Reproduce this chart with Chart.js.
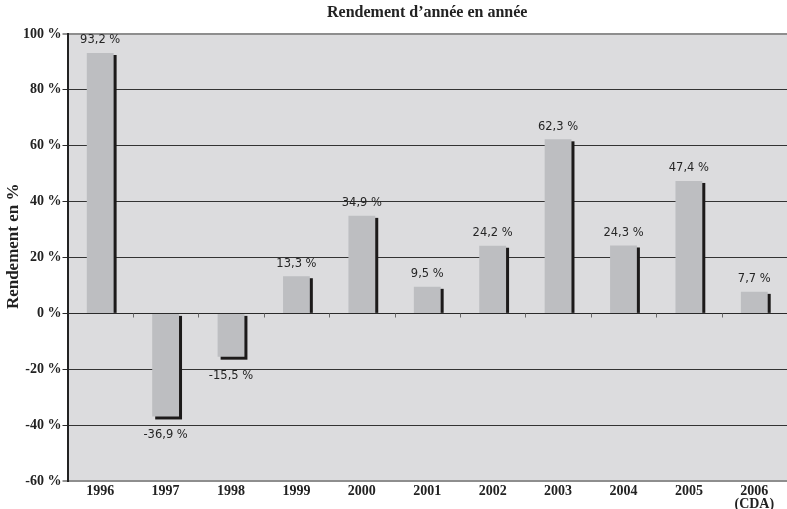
<!DOCTYPE html>
<html>
<head>
<meta charset="utf-8">
<script src="https://cdn.jsdelivr.net/npm/chart.js@4.4.1/dist/chart.umd.min.js"></script>
<style>
  html, body { margin: 0; padding: 0; background: #ffffff; }
  #wrap { width: 787px; height: 509px; }
</style>
</head>
<body>
<div id="wrap"><canvas id="c" width="787" height="509"></canvas></div>
<script>
// Year-over-year returns (%)
const years = ['1996', '1997', '1998', '1999', '2000', '2001', '2002', '2003', '2004', '2005', ['2006', '(CDA)']];
const returns = [93.2, -36.9, -15.5, 13.3, 34.9, 9.5, 24.2, 62.3, 24.3, 47.4, 7.7];
const yMin = -60;
const yMax = 100;
const yStep = 20;
const yTitle = 'Rendement en %';

const serifFamily = "'Liberation Serif', 'Times New Roman', serif";
const serifBold = { family: serifFamily, weight: 'bold' };
const fmt = v => v.toFixed(1).replace('.', ',') + ' %';

// Grey plot background
const plotBackground = {
  id: 'plotBackground',
  beforeDraw(chart) {
    const { ctx, chartArea: a } = chart;
    ctx.save();
    ctx.fillStyle = '#dcdcde';
    ctx.fillRect(a.left, a.top, a.right - a.left, a.bottom - a.top);
    ctx.restore();
  }
};

// Hard dark shadow behind each bar (offset down/right)
const barShadow = {
  id: 'barShadow',
  beforeDatasetsDraw(chart) {
    const { ctx } = chart;
    const meta = chart.getDatasetMeta(0);
    const d = 3;
    ctx.save();
    ctx.fillStyle = '#1c1a1a';
    meta.data.forEach(bar => {
      const { x, y, base, width } = bar.getProps(['x', 'y', 'base', 'width'], true);
      const left = x - width / 2 + d;
      if (y <= base) {
        ctx.fillRect(left, y + d - 1, width, base - y - d + 1);
      } else {
        ctx.fillRect(left, base + d - 1, width, y - base + 1);
      }
    });
    ctx.restore();
  }
};

// Zero line over bars, small category ticks, value labels and the vertical axis title
const overlay = {
  id: 'overlay',
  afterDatasetsDraw(chart) {
    const { ctx, scales: { x, y } } = chart;
    const y0 = Math.round(y.getPixelForValue(0)) + 0.5;
    ctx.save();
    ctx.strokeStyle = '#2a2a2a';
    ctx.lineWidth = 1;
    ctx.beginPath();
    ctx.moveTo(chart.chartArea.left, y0);
    ctx.lineTo(chart.chartArea.right, y0);
    ctx.stroke();

    ctx.strokeStyle = '#6a6a6a';
    for (let i = 0; i < years.length - 1; i++) {
      const bx = Math.round((x.getPixelForValue(i) + x.getPixelForValue(i + 1)) / 2) + 0.5;
      ctx.beginPath();
      ctx.moveTo(bx, y0);
      ctx.lineTo(bx, y0 + 4);
      ctx.stroke();
    }

    const meta = chart.getDatasetMeta(0);
    ctx.fillStyle = '#262626';
    ctx.font = "11.5px 'DejaVu Sans', 'Open Sans', sans-serif";
    ctx.textAlign = 'center';
    ctx.textBaseline = 'middle';
    meta.data.forEach((bar, i) => {
      const v = returns[i];
      const { x: bx, y: by } = bar.getProps(['x', 'y'], true);
      const ty = v >= 0 ? by - 12.5 : by + 19;
      ctx.fillText(fmt(v), bx, ty);
    });

    // rotated axis title, a little above the plot's vertical centre
    ctx.fillStyle = '#222222';
    ctx.translate(14, y.getPixelForValue(24));
    ctx.rotate(-Math.PI / 2);
    ctx.font = "bold 17px " + serifFamily;
    ctx.fillText(yTitle, 0, 0);
    ctx.restore();
  }
};

new Chart(document.getElementById('c'), {
  type: 'bar',
  data: {
    labels: years,
    datasets: [{
      data: returns,
      backgroundColor: '#bdbec1',
      borderWidth: 0,
      barPercentage: 0.41,
      categoryPercentage: 1.0
    }]
  },
  options: {
    responsive: false,
    animation: false,
    devicePixelRatio: 1,
    layout: { padding: { left: 0, right: -4, top: 0, bottom: 0 } },
    plugins: {
      legend: { display: false },
      tooltip: { enabled: false },
      title: {
        display: true,
        text: 'Rendement d\u2019année en année',
        fullSize: false,
        color: '#222222',
        font: { ...serifBold, size: 16 },
        padding: { top: 3, bottom: 11.8 }
      }
    },
    scales: {
      x: {
        grid: { display: false, drawTicks: false },
        border: { display: false },
        ticks: {
          color: '#222222',
          font: { ...serifBold, size: 14, lineHeight: 0.9 },
          padding: 4,
          maxRotation: 0,
          autoSkip: false
        },
        afterFit(s) { s.height = 28; }
      },
      y: {
        min: yMin,
        max: yMax,
        ticks: {
          stepSize: yStep,
          color: '#222222',
          font: { ...serifBold, size: 14 },
          padding: 1,
          callback: v => v + ' %'
        },
        grid: {
          color: ctx => (ctx.tick && (ctx.tick.value === yMax || ctx.tick.value === yMin)) ? '#8e8e8e' : '#333333',
          lineWidth: ctx => (ctx.tick && (ctx.tick.value === yMax || ctx.tick.value === yMin)) ? 2 : 1,
          drawTicks: true,
          tickLength: 5,
          tickColor: '#2a2a2a',
          tickWidth: 1
        },
        border: { display: true, color: '#222222', width: 2 },
        title: { display: false },
        afterFit(s) { s.width = 67.5; }
      }
    }
  },
  plugins: [plotBackground, barShadow, overlay]
});
</script>
</body>
</html>
